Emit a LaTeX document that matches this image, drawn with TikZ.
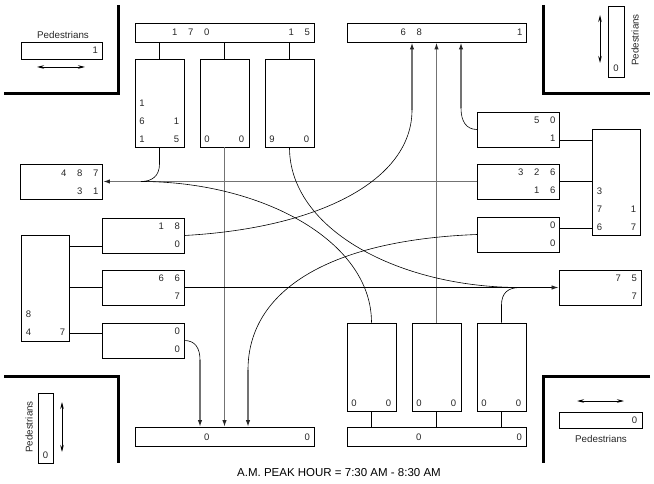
\documentclass[tikz,border=0pt]{standalone}
\usepackage{fontspec}
\setmainfont{Liberation Sans}
\usetikzlibrary{arrows.meta}
\newcommand\dgsp{\hspace{10.7pt}}
\begin{document}
\begin{tikzpicture}[x=1pt,y=-1pt,
  bx/.style={draw, line width=0.9pt, inner sep=0pt, rectangle},
  boxH/.style={bx, minimum width=179pt, minimum height=19pt},
  boxS/.style={bx, minimum width=82pt, minimum height=35pt},
  boxV/.style={bx, minimum width=49pt, minimum height=88pt},
  boxB/.style={bx, minimum width=48pt, minimum height=106pt},
  num/.style={font=\fontsize{9.5}{18}\selectfont, inner sep=0pt, text=black!85},
  col/.style={num, align=center, anchor=south},
  ped/.style={font=\fontsize{9.8}{12}\selectfont, inner sep=0pt, text=black!85},
  conn/.style={line width=0.9pt},
  thru/.style={draw=black!55, line width=1.7pt},
  crv/.style={draw=black, line width=0.6pt},
  arr/.style={-{Latex[length=7pt,width=4.5pt,color=black!85]}},
  dbl/.style={line width=0.8pt, {Stealth[length=7pt,width=3.5pt]}-{Stealth[length=7pt,width=3.5pt]}},
  corner/.style={line width=3pt, line join=miter}]
\path[use as bounding box] (0,0) rectangle (654,484);

% corners
\draw[corner] (4,94) -- (118,94) -- (118,5);
\draw[corner] (543,5) -- (543,94) -- (650,94);
\draw[corner] (4,376) -- (118,376) -- (118,463);
\draw[corner] (650,376) -- (543,376) -- (543,463);

% top-left approach
\node[boxH] (tlt) at (224.5,32.5) {};
\node[boxV] (tl1) at (159.5,103) {};
\node[boxV] (tl2) at (224.5,103) {};
\node[boxV] (tl3) at (289.5,103) {};
\node[num, anchor=base east] (tlt-l) at ([xshift=75pt,yshift=-3.4pt]tlt.west) {1\dgsp7\dgsp0};
\node[num, anchor=base east] (tlt-r) at ([xshift=-4.3pt,yshift=-3.4pt]tlt.east) {1\dgsp5};
\node[col] (tl1-l) at ([xshift=7.5pt,yshift=5.1pt]tl1.south west) {1\\6\\1};
\node[col] (tl1-r) at ([xshift=-8pt,yshift=5.1pt]tl1.south east) {1\\5};
\node[col] (tl2-l) at ([xshift=7.5pt,yshift=5.1pt]tl2.south west) {0};
\node[col] (tl2-r) at ([xshift=-8pt,yshift=5.1pt]tl2.south east) {0};
\node[col] (tl3-l) at ([xshift=7.5pt,yshift=5.1pt]tl3.south west) {9};
\node[col] (tl3-r) at ([xshift=-8pt,yshift=5.1pt]tl3.south east) {0};
\foreach \b in {tl1,tl2,tl3} \draw[conn] (\b.north) -- (\b.north |- tlt.south);

% top-right exit
\node[boxH] (trt) at (437,32.5) {};
\node[num, anchor=base east] (trt-l) at ([xshift=75pt,yshift=-3.4pt]trt.west) {6\dgsp8};
\node[num, anchor=base east] (trt-r) at ([xshift=-4.3pt,yshift=-3.4pt]trt.east) {1};

% right approach
\node[boxB] (rbig) at (616,182) {};
\node[boxS] (ra) at (518.5,129.5) {};
\node[boxS] (rb) at (518.5,181.5) {};
\node[boxS] (rc) at (518.5,234.5) {};
\node[col] (rbig-l) at ([xshift=8pt,yshift=5.1pt]rbig.south west) {3\\7\\6};
\node[col] (rbig-r) at ([xshift=-7pt,yshift=5.1pt]rbig.south east) {1\\7};
\node[num, anchor=base east] (ra-1) at ([xshift=-4.3pt,yshift=5.6pt]ra.east) {5\dgsp0};
\node[num, anchor=base east] (ra-2) at ([xshift=-4.3pt,yshift=-12.4pt]ra.east) {1};
\node[num, anchor=base east] (rb-1) at ([xshift=-4.3pt,yshift=5.6pt]rb.east) {3\dgsp2\dgsp6};
\node[num, anchor=base east] (rb-2) at ([xshift=-4.3pt,yshift=-12.4pt]rb.east) {1\dgsp6};
\node[num, anchor=base east] (rc-1) at ([xshift=-4.3pt,yshift=5.6pt]rc.east) {0};
\node[num, anchor=base east] (rc-2) at ([xshift=-4.3pt,yshift=-12.4pt]rc.east) {0};
\draw[conn] ([yshift=-10.5pt]ra.east) -- ([yshift=-10.5pt]ra.east -| rbig.west);
\draw[conn] (rb.east) -- (rb.east -| rbig.west);
\draw[conn] ([yshift=6.5pt]rc.east) -- ([yshift=6.5pt]rc.east -| rbig.west);

% left exit
\node[boxS] (lexit) at (61.5,182) {};
\node[num, anchor=base east] (lexit-1) at ([xshift=-4.3pt,yshift=5.6pt]lexit.east) {4\dgsp8\dgsp7};
\node[num, anchor=base east] (lexit-2) at ([xshift=-4.3pt,yshift=-12.4pt]lexit.east) {3\dgsp1};

% left approach
\node[boxB] (lbig) at (45,288) {};
\node[boxS] (la) at (143,235.5) {};
\node[boxS] (lb) at (143,287.5) {};
\node[boxS] (lc) at (143,340.5) {};
\node[col] (lbig-l) at ([xshift=8pt,yshift=5.6pt]lbig.south west) {8\\4};
\node[col] (lbig-r) at ([xshift=-7pt,yshift=5.6pt]lbig.south east) {7};
\node[num, anchor=base east] (la-1) at ([xshift=-4.3pt,yshift=5.6pt]la.east) {1\dgsp8};
\node[num, anchor=base east] (la-2) at ([xshift=-4.3pt,yshift=-12.4pt]la.east) {0};
\node[num, anchor=base east] (lb-1) at ([xshift=-4.3pt,yshift=5.6pt]lb.east) {6\dgsp6};
\node[num, anchor=base east] (lb-2) at ([xshift=-4.3pt,yshift=-12.4pt]lb.east) {7};
\node[num, anchor=base east] (lc-1) at ([xshift=-4.3pt,yshift=5.6pt]lc.east) {0};
\node[num, anchor=base east] (lc-2) at ([xshift=-4.3pt,yshift=-12.4pt]lc.east) {0};
\draw[conn] ([yshift=-10.5pt]la.west) -- ([yshift=-10.5pt]la.west -| lbig.east);
\draw[conn] (lb.west) -- (lb.west -| lbig.east);
\draw[conn] ([yshift=7.5pt]lc.west) -- ([yshift=7.5pt]lc.west -| lbig.east);

% right exit
\node[boxS] (rexit) at (600,287.5) {};
\node[num, anchor=base east] (rexit-1) at ([xshift=-4.3pt,yshift=5.6pt]rexit.east) {7\dgsp5};
\node[num, anchor=base east] (rexit-2) at ([xshift=-4.3pt,yshift=-12.4pt]rexit.east) {7};

% bottom approach
\node[boxH] (bbt) at (436.5,437) {};
\node[boxV] (bb1) at (371.5,367) {};
\node[boxV] (bb2) at (436.5,367) {};
\node[boxV] (bb3) at (501.5,367) {};
\node[num, anchor=base east] (bbt-l) at ([xshift=75pt,yshift=-3.4pt]bbt.west) {0};
\node[num, anchor=base east] (bbt-r) at ([xshift=-4.3pt,yshift=-3.4pt]bbt.east) {0};
\foreach \b in {bb1,bb2,bb3} {
  \node[col] (\b-l) at ([xshift=7.5pt,yshift=5.1pt]\b.south west) {0};
  \node[col] (\b-r) at ([xshift=-8pt,yshift=5.1pt]\b.south east) {0};
  \draw[conn] (\b.south) -- (\b.south |- bbt.north);
}

% bottom-left exit
\node[boxH] (blt) at (224.5,437) {};
\node[num, anchor=base east] (blt-l) at ([xshift=75pt,yshift=-3.4pt]blt.west) {0};
\node[num, anchor=base east] (blt-r) at ([xshift=-4.3pt,yshift=-3.4pt]blt.east) {0};

% movements: straight (gray)
\draw[thru,arr] (tl2.south) -- (tl2.south |- blt.north);
\draw[thru,arr] (bb2.north) -- (bb2.north |- trt.south);
\draw[thru,arr] (rb.west) -- (lexit.east |- rb.west);
\coordinate (wr) at (461,108);
\draw[thru,arr] (wr) -- (wr |- trt.south);
\coordinate (wl) at (248,370);
\draw[thru,arr] (wl) -- (wl |- blt.north);
\coordinate (el) at (412,110);
\draw[thru,arr] (el) -- (el |- trt.south);
\coordinate (er) at (200,360);
\draw[thru,arr] (er) -- (er |- blt.north);

% movements: curves (black)
\coordinate (jl) at (141,181.5);
\coordinate (jr) at (520,287.5);
\draw[crv] (tl1.south) -- (159.5,164) .. controls (159.5,176) and (152,181.5) .. (jl);
\draw[crv] (tl3.south) .. controls (289.5,230) and (400,287.5) .. (jr);
\draw[crv] (bb1.north) .. controls (371.5,240) and (260,181.5) .. (jl);
\draw[crv] (bb3.north) -- (501.5,305) .. controls (501.5,293) and (508,287.5) .. (jr);
\draw[crv] (ra.west) .. controls (466,129.5) and (461,121) .. (wr);
\draw[crv] (rc.west) .. controls (330,240) and (248,290) .. (wl);
\draw[crv] (la.east) .. controls (320,228) and (412,180) .. (el);
\draw[crv] (lc.east) .. controls (195,340.5) and (200,348) .. (er);
\draw[crv,line width=0.8pt,arr] (lb.east) -- (rexit.west);

% pedestrians top-left
\node[ped] (ptl) at (63,35) {Pedestrians};
\node[bx, minimum width=81pt, minimum height=17pt] (pbtl) at (61.5,50.5) {};
\node[num, anchor=base east] (pbtl-n) at ([xshift=-4.3pt,yshift=-3.4pt]pbtl.east) {1};
\coordinate (atl1) at (37,67); \coordinate (atl2) at (85,67);
\draw[dbl] (atl1) -- (atl2);

% pedestrians top-right
\node[bx, minimum width=16pt, minimum height=71pt] (pbtr) at (616,41.5) {};
\node[num, anchor=base] (pbtr-n) at ([yshift=5.6pt]pbtr.south) {0};
\node[ped, rotate=90] (ptr) at (635,40) {Pedestrians};
\coordinate (atr1) at (600,15); \coordinate (atr2) at (600,63);
\draw[dbl] (atr1) -- (atr2);

% pedestrians bottom-left
\node[bx, minimum width=15pt, minimum height=70pt] (pbbl) at (45.5,428) {};
\node[num, anchor=base] (pbbl-n) at ([yshift=4.6pt]pbbl.south) {0};
\node[ped, rotate=90] (pbl) at (29,427) {Pedestrians};
\coordinate (abl1) at (62,402); \coordinate (abl2) at (62,452);
\draw[dbl] (abl1) -- (abl2);

% pedestrians bottom-right
\node[bx, minimum width=83pt, minimum height=16pt] (pbbr) at (600.5,420) {};
\node[num, anchor=base east] (pbbr-n) at ([xshift=-5pt,yshift=-3.4pt]pbbr.east) {0};
\node[ped] (pbr) at (601,439) {Pedestrians};
\coordinate (abr1) at (577,401); \coordinate (abr2) at (624,401);
\draw[dbl] (abr1) -- (abr2);

% title
\node[font=\fontsize{11.5}{14}\selectfont, anchor=base, inner sep=0pt] (title) at (339,476) {A.M. PEAK HOUR = 7:30 AM - 8:30 AM};
\end{tikzpicture}
\end{document}
